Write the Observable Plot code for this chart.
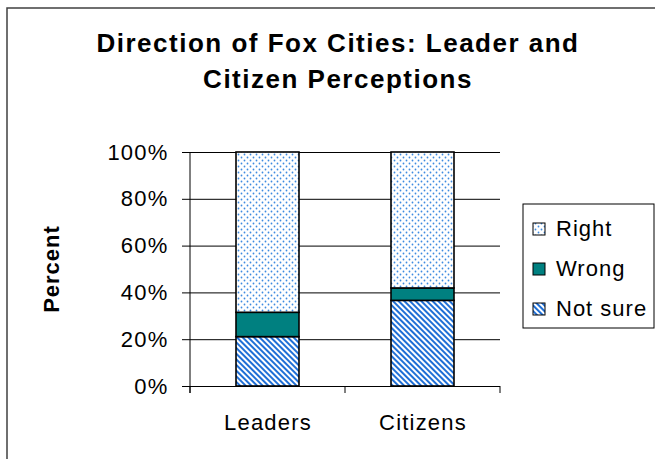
<!DOCTYPE html>
<html>
<head>
<meta charset="utf-8">
<script src="https://cdn.jsdelivr.net/npm/d3@7"></script>
<script src="https://cdn.jsdelivr.net/npm/@observablehq/plot@0.6"></script>
<style>
  html, body { margin: 0; padding: 0; background: #fff; }
</style>
</head>
<body>
<div id="chart"></div>
<script>
const titleLines = ["Direction of Fox Cities: Leader and", "Citizen Perceptions"];
const yLabel = "Percent";
const categories = ["Leaders", "Citizens"];
const series = ["Not sure", "Wrong", "Right"];
const legendOrder = ["Right", "Wrong", "Not sure"];
const notSure = [21.1, 36.6];
const wrong = [10.4, 5.3];
const right = [68.5, 58.1];
const yTicks = [0, 20, 40, 60, 80, 100];
const seriesFill = ["url(#pStripes)", "#008080", "url(#pDots)"];

const values = {"Not sure": notSure, "Wrong": wrong, "Right": right};
const data = categories.flatMap((c, i) => series.map(s => ({cat: c, series: s, value: values[s][i]})));

const font = "'Liberation Sans', Arial, sans-serif";

const plot = Plot.plot({
  width: 655,
  height: 459,
  marginLeft: 190,
  marginRight: 155,
  marginTop: 152,
  marginBottom: 73,
  style: {fontFamily: font, fontSize: "22px", letterSpacing: "1.2px", color: "#000", background: "#fff"},
  x: {domain: categories, paddingInner: 0.594, paddingOuter: 0.297, axis: null},
  y: {domain: [0, 100], axis: null},
  color: {domain: series, range: seriesFill},
  marks: [
    Plot.ruleY(yTicks.filter(d => d > 0), {stroke: "#000", strokeWidth: 1}),
    Plot.barY(data, {x: "cat", y: "value", fill: "series", stroke: "#000", strokeWidth: 1.6, order: series}),
    Plot.ruleY([0], {stroke: "#000", strokeWidth: 1}),
    Plot.axisY(yTicks, {tickSize: 8, tickPadding: 14, tickFormat: d => d + "%", label: null, stroke: "#000"}),
    Plot.axisX({tickSize: 0, tickPadding: 28, label: null})
  ]
});

const svg = d3.select(plot);
const defs = svg.insert("defs", ":first-child");
const dots = defs.append("pattern").attr("id", "pDots").attr("patternUnits", "userSpaceOnUse")
  .attr("width", 6).attr("height", 6);
dots.append("rect").attr("width", 6).attr("height", 6).attr("fill", "#fff");
dots.append("circle").attr("cx", 1.5).attr("cy", 1.5).attr("r", 0.9).attr("fill", "#3d8be0");
dots.append("circle").attr("cx", 4.5).attr("cy", 4.5).attr("r", 0.9).attr("fill", "#3d8be0");
const stripes = defs.append("pattern").attr("id", "pStripes").attr("patternUnits", "userSpaceOnUse")
  .attr("width", 4).attr("height", 4).attr("patternTransform", "rotate(-45)");
stripes.append("rect").attr("width", 4).attr("height", 4).attr("fill", "#fff");
stripes.append("rect").attr("width", 2).attr("height", 4).attr("fill", "#1f6fd6");

// axis line and category ticks from scales
const xs = plot.scale("x");
const ys = plot.scale("y");
const [x0, x1] = xs.range;
const yTop = ys.apply(100), yBot = ys.apply(0);
const tickLen = 7;
const g = svg.append("g").attr("stroke", "#000").attr("stroke-width", 1);
g.append("line").attr("x1", x0).attr("x2", x0).attr("y1", yTop).attr("y2", yBot + tickLen);
d3.range(categories.length + 1).forEach(i => {
  const x = x0 + i * xs.step;
  g.append("line").attr("x1", x).attr("x2", x).attr("y1", yBot).attr("y2", yBot + tickLen);
});

// outer frame
svg.append("path").attr("d", "M7,459V8H655").attr("fill", "none").attr("stroke", "#404040").attr("stroke-width", 1.5);

// title
const t = svg.append("text").attr("text-anchor", "middle").attr("font-weight", "bold")
  .attr("font-size", 26).attr("letter-spacing", "1.5px").attr("fill", "#000");
titleLines.forEach((line, i) => t.append("tspan").attr("x", 338).attr("y", 52 + i * 36).text(line));

// y label
svg.append("text").attr("transform", `translate(59,${(yTop + yBot) / 2}) rotate(-90)`)
  .attr("text-anchor", "middle").attr("font-weight", "bold").attr("letter-spacing", "1px")
  .attr("font-size", 22).text(yLabel);

// legend
const lg = svg.append("g").attr("text-anchor", "start");
lg.append("rect").attr("x", 523).attr("y", 204).attr("width", 131).attr("height", 124)
  .attr("fill", "#fff").attr("stroke", "#000").attr("stroke-width", 1);
legendOrder.forEach((s, i) => {
  const yy = 223 + i * 40;
  lg.append("rect").attr("x", 533).attr("y", yy).attr("width", 12).attr("height", 12)
    .attr("fill", seriesFill[series.indexOf(s)]).attr("stroke", "#000").attr("stroke-width", 1);
  lg.append("text").attr("x", 556).attr("y", yy + 13).attr("text-anchor", "start")
    .attr("font-size", 22).attr("letter-spacing", "1px").text(s);
});

document.getElementById("chart").appendChild(plot);
</script>
</body>
</html>
